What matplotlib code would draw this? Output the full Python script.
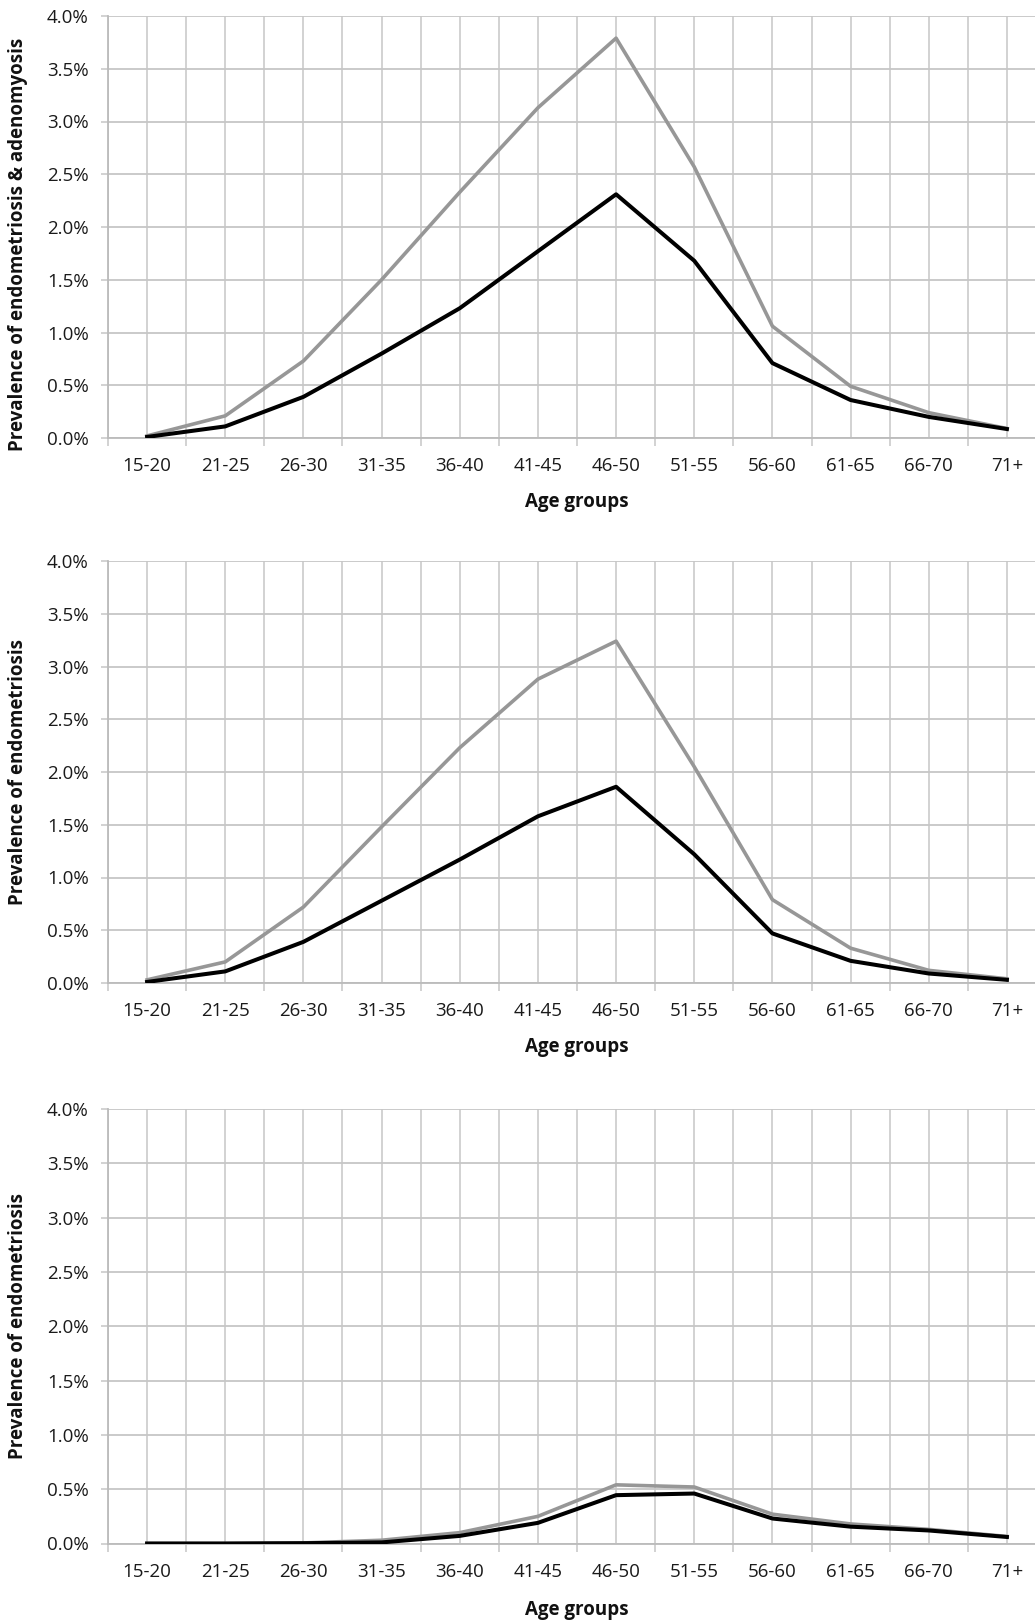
import matplotlib.pyplot as plt
from matplotlib.ticker import FixedLocator, FuncFormatter

plt.rcParams['font.family'] = ['Open Sans', 'DejaVu Sans']

# age groups on the x axis
ages = ['15-20', '21-25', '26-30', '31-35', '36-40', '41-45',
        '46-50', '51-55', '56-60', '61-65', '66-70', '71+']

# panel 1: endometriosis & adenomyosis (percent)
top_gray = [0.02, 0.21, 0.73, 1.50, 2.33, 3.13, 3.79, 2.57, 1.06, 0.49, 0.24, 0.09]
top_black = [0.01, 0.11, 0.39, 0.80, 1.23, 1.77, 2.31, 1.68, 0.71, 0.36, 0.20, 0.085]

# panel 2: endometriosis
mid_gray = [0.03, 0.20, 0.72, 1.48, 2.23, 2.88, 3.24, 2.05, 0.79, 0.33, 0.12, 0.04]
mid_black = [0.01, 0.11, 0.39, 0.78, 1.17, 1.58, 1.86, 1.22, 0.47, 0.21, 0.09, 0.03]

# panel 3: endometriosis
bot_gray = [0.0, 0.0, 0.005, 0.03, 0.10, 0.25, 0.54, 0.52, 0.27, 0.18, 0.13, 0.065]
bot_black = [0.0, 0.0, 0.003, 0.01, 0.07, 0.19, 0.445, 0.46, 0.23, 0.155, 0.12, 0.06]

ylabels = ['Prevalence of endometriosis & adenomyosis',
           'Prevalence of endometriosis',
           'Prevalence of endometriosis']

W, H = 1035, 1623
fig = plt.figure(figsize=(W / 100, H / 100), dpi=100)

# (top px, bottom px) of each plot area
panels = [(16, 438), (561, 983), (1109, 1543.5)]
data = [(top_gray, top_black), (mid_gray, mid_black), (bot_gray, bot_black)]
left_px, right_px = 108, 1046
grid_c = '#c6c6c6'

x = list(range(len(ages)))
for i, ((t, b), (g, k)) in enumerate(zip(panels, data)):
    ax = fig.add_axes([left_px / W, (H - b) / H, (right_px - left_px) / W, (b - t) / H])
    ax.plot(x, g, color='#979797', lw=2.6, solid_joinstyle='round', zorder=3)
    ax.plot(x, k, color='black', lw=2.9, solid_joinstyle='round', zorder=4)

    ax.set_xlim(-0.5, 11.5)
    ax.set_ylim(0, 4.0)
    ax.set_xticks(x)
    ax.set_xticklabels(ages)
    ax.xaxis.set_minor_locator(FixedLocator([v - 0.5 for v in range(13)]))
    ax.set_yticks([v * 0.5 for v in range(9)])
    ax.yaxis.set_major_formatter(FuncFormatter(lambda v, p: '%.1f%%' % v))

    ax.grid(True, which='both', axis='x', color=grid_c, lw=1.1)
    ax.grid(True, which='major', axis='y', color=grid_c, lw=1.3)
    ax.set_axisbelow(True)

    ax.tick_params(axis='x', which='major', length=0, pad=14, labelsize=13.5, colors='#1a1a1a')
    ax.tick_params(axis='x', which='minor', length=6, width=1.1, color=grid_c)
    ax.tick_params(axis='y', length=5, width=1.1, color=grid_c, pad=9,
                   labelsize=13.5, labelcolor='#1a1a1a')

    for s in ['top', 'right']:
        ax.spines[s].set_visible(False)
    for s in ['left', 'bottom']:
        ax.spines[s].set_color('#bbbbbb')
        ax.spines[s].set_linewidth(1.3)

    ycen = (t + b) / 2 if i > 0 else 244
    fig.text(18 / W, 1 - ycen / H, ylabels[i], rotation=90, ha='center', va='center',
             fontsize=13.5, fontweight='bold', color='#111111')

for yc in [502, 1047, 1610]:
    fig.text(577 / W, 1 - yc / H, 'Age groups', ha='center', va='center',
             fontsize=13.5, fontweight='bold', color='#111111')

fig.savefig('out.png', dpi=100)
